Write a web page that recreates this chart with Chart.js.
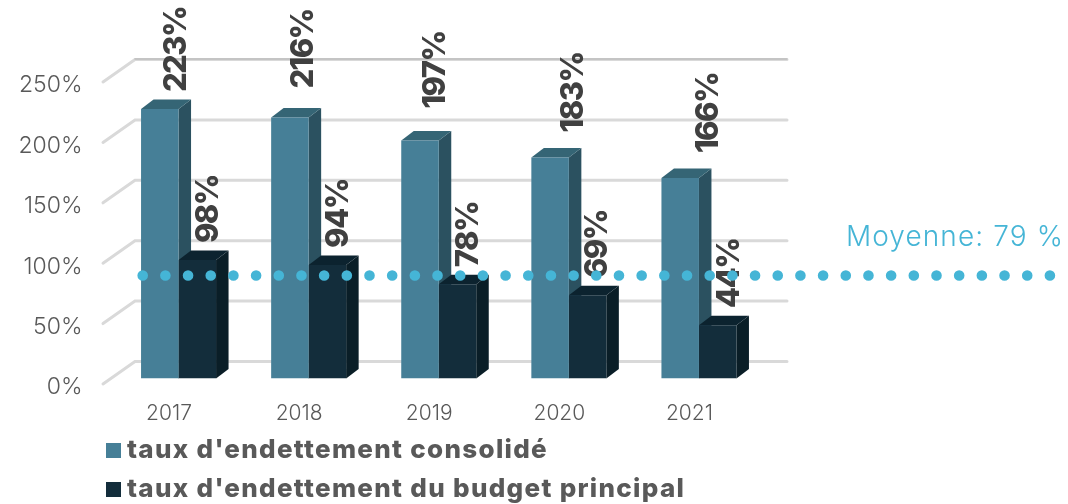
<!DOCTYPE html>
<html><head><meta charset="utf-8">
<style>html,body{margin:0;padding:0;background:#fff}#w{width:1068px;height:504px;position:relative}</style>
<script src="https://cdn.jsdelivr.net/npm/chart.js@4"></script>
</head><body><div id="w"><canvas id="c"></canvas></div>
<script>
const categories = ['2017','2018','2019','2020','2021'];
const consolidated = [223,216,197,183,166];
const mainBudget = [98,94,78,69,44];
const averageValue = 79;
const averageLabel = 'Moyenne: 79 %';
const seriesNames = ["taux d'endettement consolidé","taux d'endettement du budget principal"];

const LIGHT = '"Inter","Open Sans",sans-serif';
const GREY = '#595959';
const faces = [{front:'#467F97',side:'#2B5160',top:'#356575'},{front:'#132D3B',side:'#0A1E27',top:'#0C232F'}];
const DX = 12.5, DY = 9.5;
const labelShift = [[16,13,15,23,27],[10.5,10,10.5,9.5,11]];
const labelLift = [[17,29,32,25,25],[17,17,17,17,17]];

const scene = {
  id:'scene',
  afterLayout(chart){
    const lg = chart.legend;
    lg.left = 100;
    lg.adjustHitBoxes();
    if(!lg._spaced){
      const draw = lg.draw.bind(lg);
      lg.draw = function(a){ lg.ctx.letterSpacing='1.3px'; draw(a); lg.ctx.letterSpacing='0px'; };
      lg._spaced = true;
    }
  },
  beforeDatasetsDraw(chart){
    const {ctx,scales:{y}} = chart;
    ctx.save();
    y.ticks.forEach(t=>{
      const py = y.getPixelForValue(t.value);
      ctx.lineCap='round';
      ctx.strokeStyle='#D9D9D9'; ctx.lineWidth=3;
      ctx.beginPath(); ctx.moveTo(103,py+5.5); ctx.lineTo(135,py-17); ctx.lineTo(787,py-17); ctx.stroke();
      if(t.value === 250){ ctx.strokeStyle='#BDBDBD'; ctx.lineWidth=1.5; ctx.beginPath(); ctx.moveTo(135,py-17.5); ctx.lineTo(787,py-17.5); ctx.stroke(); }
    });
    chart.data.datasets.forEach((ds,i)=>{
      chart.getDatasetMeta(i).data.forEach(b=>{
        const l=b.x-b.width/2, r=b.x+b.width/2, t=b.y, bt=b.base;
        ctx.fillStyle=faces[i].side;
        ctx.beginPath(); ctx.moveTo(r,t); ctx.lineTo(r+DX,t-DY); ctx.lineTo(r+DX,bt-DY); ctx.lineTo(r,bt); ctx.closePath(); ctx.fill();
        ctx.fillStyle=faces[i].top;
        ctx.beginPath(); ctx.moveTo(l,t); ctx.lineTo(l+DX,t-DY); ctx.lineTo(r+DX,t-DY); ctx.lineTo(r,t); ctx.closePath(); ctx.fill();
      });
    });
    ctx.restore();
  },
  afterDatasetsDraw(chart){
    const {ctx,scales:{y}} = chart;
    ctx.save();
    ctx.fillStyle='#404040'; ctx.font='800 31px '+LIGHT; ctx.textAlign='left'; ctx.textBaseline='middle';
    ctx.letterSpacing='-1.6px';
    chart.data.datasets.forEach((ds,i)=>{
      chart.getDatasetMeta(i).data.forEach((b,j)=>{
        ctx.save();
        ctx.translate(b.x+labelShift[i][j], b.y-labelLift[i][j]);
        ctx.rotate(-Math.PI/2);
        ctx.fillText(ds.data[j]+'%',0,1);
        ctx.restore();
      });
    });
    ctx.letterSpacing='0px';
    const py = y.getPixelForValue(averageValue)-7.5;
    ctx.strokeStyle='#45B5D6'; ctx.lineWidth=10.6; ctx.lineCap='round'; ctx.setLineDash([0,22.68]);
    ctx.beginPath(); ctx.moveTo(142.7,py); ctx.lineTo(1050,py); ctx.stroke();
    ctx.setLineDash([]);
    ctx.fillStyle='#45B5D6'; ctx.font='300 28px '+LIGHT; ctx.textAlign='right'; ctx.letterSpacing='1.1px';
    ctx.fillText(averageLabel,1064,238);
    ctx.letterSpacing='0px';
    ctx.restore();
  }
};

new Chart(document.getElementById('c'),{
  type:'bar',
  data:{labels:categories,datasets:[
    {label:seriesNames[0],data:consolidated,backgroundColor:faces[0].front,categoryPercentage:0.5765,barPercentage:1},
    {label:seriesNames[1],data:mainBudget,backgroundColor:faces[1].front,categoryPercentage:0.5765,barPercentage:1}
  ]},
  options:{
    responsive:true,maintainAspectRatio:false,animation:false,
    layout:{padding:{left:0,right:304,top:76.5,bottom:0}},
    plugins:{
      tooltip:{enabled:false},
      legend:{position:'bottom',align:'start',maxHeight:79.5,
        labels:{boxWidth:1,boxHeight:1,padding:13,color:GREY,font:{family:LIGHT,size:26,weight:'800'},
          generateLabels:c=>c.data.datasets.map((d,i)=>({text:d.label,fillStyle:d.backgroundColor,strokeStyle:d.backgroundColor,lineWidth:14,datasetIndex:i,fontColor:GREY}))
        }
      }
    },
    scales:{
      x:{grid:{display:false,drawTicks:false},border:{display:false},
        afterFit:s=>{s.height=46;},
        ticks:{color:GREY,padding:23,labelOffset:-9.5,maxRotation:0,autoSkip:false,font:{family:LIGHT,size:21,weight:'300'}}},
      y:{min:0,max:250,grid:{display:false,drawTicks:false},border:{display:false},
        afterFit:s=>{s.width=113.5;},
        ticks:{stepSize:50,color:GREY,padding:31,labelOffset:9,callback:v=>v+'%',font:{family:LIGHT,size:23,weight:'300'}}}
    }
  },
  plugins:[scene]
});
</script></body></html>
